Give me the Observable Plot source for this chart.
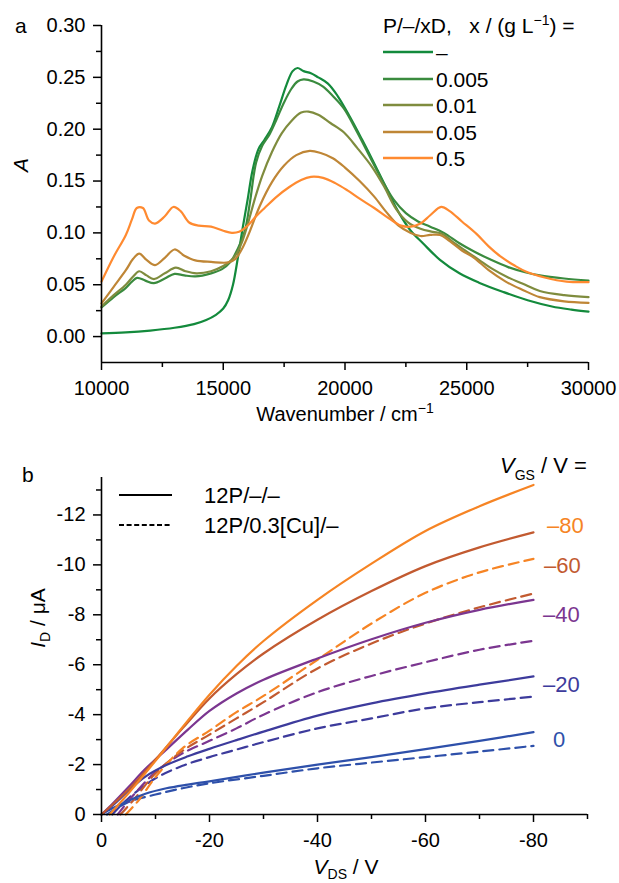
<!DOCTYPE html>
<html><head><meta charset="utf-8">
<script src="https://cdn.jsdelivr.net/npm/d3@7"></script>
<script src="https://cdn.jsdelivr.net/npm/@observablehq/plot@0.6"></script>
<style>
body{margin:0;background:#fff;}
#wrap{position:relative;width:619px;height:883px;}
#wrap svg{display:block;}
</style></head><body><div id="wrap"></div>
<script>
// ---------- DATA: panel a (absorbance spectra) ----------
const concLabels = ["–", "0.005", "0.01", "0.05", "0.5"];
const specNone = [[10000,0.003],[11000,0.004],[12000,0.0058],[13000,0.0085],[13800,0.012],[14300,0.016],[14700,0.021],[15000,0.027],[15200,0.035],[15400,0.05],[15600,0.076],[15800,0.105],[16000,0.132],[16200,0.16],[16450,0.181],[16700,0.19],[17000,0.202],[17300,0.222],[17600,0.243],[17850,0.256],[18050,0.259],[18300,0.256],[18600,0.254],[18900,0.25],[19300,0.244],[19700,0.232],[20200,0.212],[20700,0.19],[21200,0.167],[21700,0.143],[22200,0.12],[22700,0.102],[23200,0.09],[23900,0.074],[24700,0.061],[25500,0.052],[26500,0.043],[27500,0.035],[28500,0.029],[29300,0.026],[30000,0.024]];
const spec0005 = [[10000,0.028],[10500,0.038],[11000,0.047],[11250,0.053],[11460,0.0566],[11800,0.054],[12150,0.0515],[12600,0.056],[13000,0.0605],[13400,0.059],[13860,0.058],[14500,0.061],[14950,0.065],[15300,0.072],[15500,0.08],[15700,0.09],[15900,0.103],[16100,0.13],[16350,0.168],[16600,0.184],[16900,0.195],[17200,0.21],[17500,0.226],[17800,0.239],[18050,0.246],[18300,0.248],[18700,0.246],[19100,0.241],[19500,0.232],[19950,0.22],[20500,0.197],[21050,0.172],[21500,0.152],[22000,0.132],[22500,0.119],[23000,0.111],[23500,0.106],[24060,0.1],[24700,0.09],[25300,0.082],[26000,0.074],[26700,0.067],[27400,0.062],[28000,0.059],[29000,0.056],[30000,0.054]];
const spec001 = [[10000,0.029],[10500,0.04],[11000,0.05],[11300,0.058],[11550,0.063],[11850,0.059],[12150,0.0555],[12600,0.061],[13050,0.0665],[13450,0.063],[13900,0.061],[14500,0.063],[15000,0.068],[15300,0.073],[15550,0.08],[15800,0.093],[16050,0.112],[16300,0.133],[16600,0.155],[17000,0.178],[17400,0.196],[17800,0.208],[18200,0.216],[18500,0.217],[18900,0.214],[19400,0.206],[19950,0.197],[20500,0.182],[21100,0.164],[21600,0.145],[22100,0.123],[22600,0.11],[23100,0.104],[23600,0.101],[24000,0.099],[24500,0.09],[25000,0.082],[25500,0.074],[26000,0.066],[26700,0.057],[27400,0.05],[28000,0.044],[29000,0.04],[30000,0.038]];
const spec005 = [[10000,0.032],[10500,0.048],[11000,0.064],[11300,0.075],[11550,0.08],[11850,0.074],[12200,0.069],[12600,0.076],[13000,0.084],[13400,0.078],[13850,0.0735],[14500,0.072],[15200,0.0715],[15500,0.075],[15800,0.086],[16100,0.102],[16500,0.126],[17000,0.149],[17500,0.165],[18000,0.175],[18550,0.179],[19000,0.177],[19500,0.172],[20000,0.163],[20600,0.15],[21200,0.135],[21700,0.12],[22200,0.107],[22700,0.1],[23100,0.097],[23500,0.098],[23900,0.098],[24300,0.092],[24800,0.083],[25300,0.076],[25900,0.064],[26600,0.053],[27300,0.045],[28000,0.038],[29000,0.034],[30000,0.0325]];
const spec05 = [[10000,0.053],[10500,0.077],[11000,0.098],[11250,0.113],[11450,0.124],[11700,0.124],[11950,0.112],[12200,0.109],[12600,0.116],[12950,0.125],[13250,0.121],[13600,0.11],[14000,0.107],[14500,0.106],[15000,0.102],[15350,0.1],[15650,0.101],[16000,0.107],[16350,0.116],[16700,0.124],[17200,0.135],[17700,0.144],[18200,0.151],[18600,0.154],[19100,0.153],[19600,0.148],[20100,0.141],[20600,0.133],[21200,0.124],[21800,0.114],[22300,0.107],[22700,0.106],[23100,0.109],[23500,0.117],[23950,0.125],[24300,0.121],[24800,0.111],[25400,0.099],[25900,0.087],[26400,0.077],[27000,0.068],[27500,0.062],[28200,0.057],[29100,0.053],[30000,0.0525]];
const specColors = ["#138a3c", "#3a8b3e", "#7f8c3e", "#bf8636", "#ff8a30"];
const aYMajor = [0, 0.05, 0.10, 0.15, 0.20, 0.25, 0.30];
const aYMinor = [0.025, 0.075, 0.125, 0.175, 0.225, 0.275];
const aXMajor = [10000, 15000, 20000, 25000, 30000];
const aXMinor = [12500, 17500, 22500, 27500];

// ---------- DATA: panel b (output characteristics) ----------
const vgsLabels = ["0", "–20", "–40", "–60", "–80"];
const vgsColors = ["#2e50aa", "#3d3b9c", "#7b3690", "#c25a30", "#f68424"];
const solid0  = [[0,0],[-2,-0.25],[-5,-0.55],[-8,-0.82],[-12,-1.05],[-16,-1.2],[-20,-1.33],[-30,-1.68],[-40,-2.0],[-50,-2.3],[-60,-2.62],[-70,-2.95],[-80,-3.3]];
const solid20 = [[0,0],[-2,-0.35],[-5,-0.95],[-8,-1.5],[-12,-1.98],[-16,-2.33],[-20,-2.63],[-25,-2.98],[-30,-3.32],[-40,-3.96],[-50,-4.45],[-60,-4.85],[-70,-5.2],[-80,-5.53]];
const solid40 = [[0,0],[-2,-0.42],[-5,-1.1],[-8,-1.8],[-12,-2.6],[-16,-3.4],[-20,-4.15],[-25,-4.85],[-30,-5.4],[-40,-6.25],[-50,-7.02],[-60,-7.68],[-70,-8.2],[-80,-8.6]];
const solid60 = [[0,0],[-5,-1.0],[-10,-2.2],[-15,-3.45],[-20,-4.65],[-25,-5.62],[-30,-6.45],[-40,-7.8],[-50,-8.95],[-60,-9.95],[-70,-10.7],[-80,-11.3]];
const solid80 = [[-1.5,0],[-5,-0.85],[-10,-2.15],[-15,-3.5],[-20,-4.8],[-25,-5.95],[-30,-6.95],[-40,-8.6],[-50,-10.05],[-60,-11.36],[-70,-12.35],[-80,-13.2]];
const dash0  = [[-1,0],[-5,-0.5],[-10,-0.8],[-15,-1.05],[-20,-1.25],[-30,-1.55],[-40,-1.85],[-50,-2.08],[-60,-2.3],[-70,-2.52],[-80,-2.75]];
const dash20 = [[-2,0],[-5,-0.65],[-10,-1.45],[-15,-1.95],[-20,-2.3],[-25,-2.6],[-30,-2.9],[-40,-3.45],[-50,-3.85],[-60,-4.25],[-70,-4.5],[-80,-4.72]];
const dash40 = [[-3,0],[-6,-0.8],[-10,-1.7],[-15,-2.45],[-20,-2.95],[-25,-3.45],[-30,-4.0],[-40,-4.9],[-50,-5.55],[-60,-6.1],[-70,-6.6],[-80,-6.96]];
const dash60 = [[-3.5,0],[-6,-0.6],[-10,-1.65],[-15,-2.55],[-20,-3.2],[-25,-3.85],[-30,-4.5],[-40,-5.85],[-50,-6.85],[-60,-7.65],[-70,-8.3],[-80,-8.85]];
const dash80 = [[-4.5,0],[-7,-0.6],[-10,-1.5],[-15,-2.65],[-20,-3.36],[-25,-4.1],[-30,-4.75],[-40,-6.2],[-50,-7.65],[-60,-8.88],[-70,-9.7],[-80,-10.24]];
const bYMajor = [0, -2, -4, -6, -8, -10, -12];
const bYMinor = [-1, -3, -5, -7, -9, -11, -13];
const bXMajor = [0, -20, -40, -60, -80];
const bXMinor = [-10, -30, -50, -70, -90];
const deviceLabels = ["12P/–/–", "12P/0.3[Cu]/–"];

// ---------- build ----------
const FONT = '"Liberation Sans", Arial, Helvetica, sans-serif';
const wrap = document.getElementById("wrap");

const specRows = [specNone, spec0005, spec001, spec005, spec05]
  .flatMap((arr, i) => arr.map(([w, a]) => ({w, a, s: concLabels[i]})));

const plotA = Plot.plot({
  width: 619, height: 440,
  marginTop: 25, marginBottom: 78, marginLeft: 101, marginRight: 31,
  style: {fontFamily: FONT, fontSize: "20px", color: "#000", background: "#fff", overflow: "visible"},
  x: {domain: [10000, 30000]},
  y: {domain: [-0.025, 0.30]},
  color: {domain: concLabels, range: specColors},
  marks: [
    Plot.line(specRows, {x: "w", y: "a", z: "s", stroke: "s", strokeWidth: 2.2, curve: "catmull-rom"}),
    Plot.axisY({ticks: aYMajor, tickSize: 8, tickPadding: 8, strokeWidth: 1.5, tickFormat: d3.format(".2f"), label: null, fontSize: 20}),
    Plot.axisY({ticks: aYMinor, tickSize: 5, strokeWidth: 1.5, tickFormat: () => "", label: null}),
    Plot.axisX({ticks: aXMajor, tickSize: 8, tickPadding: 10, strokeWidth: 1.5, tickFormat: d => String(d), label: null, fontSize: 20}),
    Plot.axisX({ticks: aXMinor, tickSize: 5, strokeWidth: 1.5, tickFormat: () => "", label: null}),
    Plot.ruleX([10000], {strokeWidth: 1.6}),
    Plot.ruleY([-0.025], {strokeWidth: 1.6})
  ]
});
wrap.appendChild(plotA);

const mk = (arrs, kind) => arrs.flatMap((arr, i) => arr.map(([v, id]) => ({v, id, g: vgsLabels[i], k: kind + i})));
const solidRows = mk([solid0, solid20, solid40, solid60, solid80], "s");
const dashRows = mk([dash0, dash20, dash40, dash60, dash80], "d");

const plotB = Plot.plot({
  width: 619, height: 443,
  marginTop: 37, marginBottom: 69, marginLeft: 101, marginRight: 32,
  style: {fontFamily: FONT, fontSize: "20px", color: "#000", background: "#fff", overflow: "visible"},
  x: {domain: [0, -90]},
  y: {domain: [0, -13.5]},
  color: {domain: vgsLabels, range: vgsColors},
  marks: [
    Plot.line(dashRows, {x: "v", y: "id", z: "k", stroke: "g", strokeWidth: 2.2, strokeDasharray: "10,6", curve: "catmull-rom"}),
    Plot.line(solidRows, {x: "v", y: "id", z: "k", stroke: "g", strokeWidth: 2.2, curve: "catmull-rom"}),
    Plot.axisY({ticks: bYMajor, tickSize: 8, tickPadding: 8, strokeWidth: 1.5, tickFormat: d => String(d), label: null, fontSize: 20}),
    Plot.axisY({ticks: bYMinor, tickSize: 5, strokeWidth: 1.5, tickFormat: () => "", label: null}),
    Plot.axisX({ticks: bXMajor, tickSize: 8, tickPadding: 10, strokeWidth: 1.5, tickFormat: d => String(d), label: null, fontSize: 20}),
    Plot.axisX({ticks: bXMinor, tickSize: 5, strokeWidth: 1.5, tickFormat: () => "", label: null}),
    Plot.ruleX([0], {strokeWidth: 1.6}),
    Plot.ruleY([0], {strokeWidth: 1.6})
  ]
});
wrap.appendChild(plotB);

// ---------- annotations ----------
function addText(svg, x, y, parts, o = {}) {
  const t = d3.select(svg).append("text")
    .attr("x", x).attr("y", y)
    .attr("font-family", FONT).attr("font-size", o.size || 20)
    .attr("fill", o.fill || "#000")
    .attr("text-anchor", o.anchor || "start");
  if (o.rotate) t.attr("transform", `rotate(${o.rotate},${x},${y})`);
  let shift = 0;
  for (const p of parts) {
    const ts = t.append("tspan").text(p.t);
    let target = p.sub ? o.subShift || 5 : p.sup ? -(o.supShift || 9) : 0;
    if (target !== shift) { ts.attr("dy", target - shift); shift = target; }
    if (p.sub || p.sup) ts.attr("font-size", p.small || 14);
    if (p.italic) ts.attr("font-style", "italic");
  }
  return t;
}

// panel a
const svgA = d3.select(plotA).node();
addText(svgA, 15, 33, [{t: "a"}], {size: 21});
addText(svgA, 28, 165, [{t: "A", italic: true}], {size: 21, anchor: "middle", rotate: -90});
addText(svgA, 345, 421, [{t: "Wavenumber / cm"}, {t: "−1", sup: true}, {t: ""}], {size: 20, anchor: "middle", supShift: 8});
addText(svgA, 383, 33, [{t: "P/–/xD,\u00a0\u00a0\u00a0x / (g L"}, {t: "−1", sup: true}, {t: ") ="}], {size: 21, supShift: 8});
const legY = [52, 79, 105, 132, 158];
concLabels.forEach((lab, i) => {
  d3.select(svgA).append("line").attr("x1", 383).attr("x2", 433).attr("y1", legY[i]).attr("y2", legY[i])
    .attr("stroke", specColors[i]).attr("stroke-width", 2.6);
  addText(svgA, 436, legY[i] + 8, [{t: lab}], {size: 21});
});

// panel b (svg origin at page y = 440)
const svgB = d3.select(plotB).node();
addText(svgB, 22, 42, [{t: "b"}], {size: 21});
addText(svgB, 45, 178, [{t: "I", italic: true}, {t: "D", sub: true}, {t: " / μA"}], {size: 21, anchor: "middle", rotate: -90, subShift: 5});
addText(svgB, 346, 434, [{t: "V", italic: true}, {t: "DS", sub: true}, {t: " / V"}], {size: 21, anchor: "middle", subShift: 5});
addText(svgB, 500, 33, [{t: "V", italic: true}, {t: "GS", sub: true}, {t: " / V ="}], {size: 22, subShift: 7});
const vgsLabX = [553, 543, 543, 544, 547];
const vgsLabY = [307, 252, 182, 133, 93];
vgsLabels.forEach((lab, i) => addText(svgB, vgsLabX[i], vgsLabY[i], [{t: lab}], {size: 22, fill: vgsColors[i]}));
d3.select(svgB).append("line").attr("x1", 119).attr("x2", 172).attr("y1", 55).attr("y2", 55)
  .attr("stroke", "#000").attr("stroke-width", 2);
d3.select(svgB).append("line").attr("x1", 119).attr("x2", 172).attr("y1", 85).attr("y2", 85)
  .attr("stroke", "#000").attr("stroke-width", 2).attr("stroke-dasharray", "5,2.6");
addText(svgB, 204, 63, [{t: deviceLabels[0]}], {size: 22});
addText(svgB, 204, 93, [{t: deviceLabels[1]}], {size: 22});
</script></body></html>
